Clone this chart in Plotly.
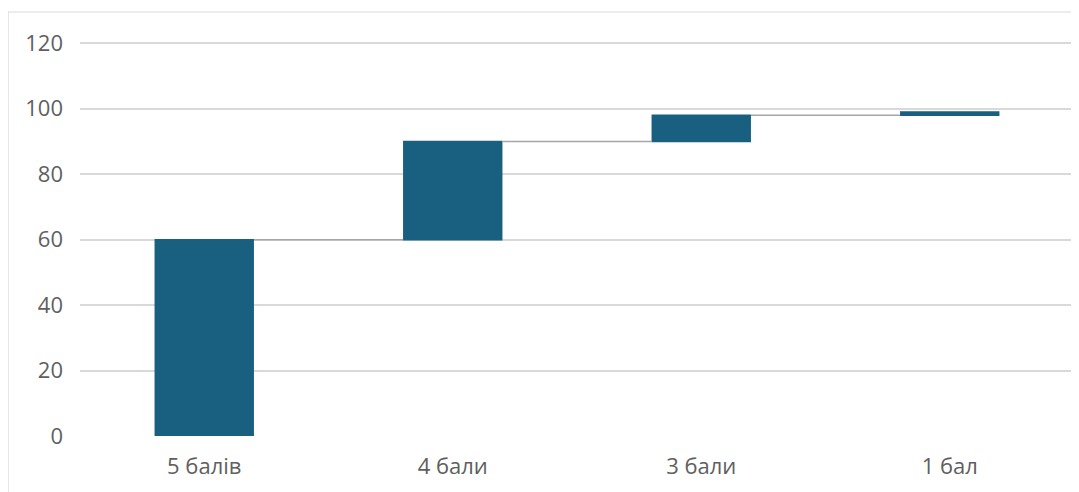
import plotly.graph_objects as go

categories = ["5 балів", "4 бали", "3 бали", "1 бал"]
values = [60, 30, 8, 1]
y_ticks = [0, 20, 40, 60, 80, 100, 120]

fig = go.Figure(go.Waterfall(
    x=categories,
    y=values,
    measure=["relative"] * len(values),
    increasing=dict(marker=dict(color="#195f7f")),
    decreasing=dict(marker=dict(color="#195f7f")),
    totals=dict(marker=dict(color="#195f7f")),
    connector=dict(line=dict(color="#a6a6a6", width=1.5)),
    hoverinfo="x+y",
))

fig.update_layout(
    width=1071, height=484,
    margin=dict(l=72, r=5, t=32, b=56),
    paper_bgcolor="white", plot_bgcolor="white",
    waterfallgap=0.6,
    showlegend=False,
    font=dict(family="Open Sans, Noto Sans, sans-serif", size=22, color="#5f5f5f"),
    xaxis=dict(showgrid=False, showline=False, zeroline=False,
               ticks="", ticklabelstandoff=15),
    yaxis=dict(range=[0, 121], tickvals=y_ticks, showgrid=True,
               gridcolor="#d9d9d9", gridwidth=1.5, zeroline=False,
               showline=False, ticks="", ticklabelstandoff=16),
)

fig.add_shape(type="rect", xref="paper", yref="paper",
              x0=-0.0724, x1=1.02, y0=-0.2, y1=1.0707,
              line=dict(color="#d9d9d9", width=1.2), fillcolor="rgba(0,0,0,0)",
              layer="below")

fig.write_html("out.html")
